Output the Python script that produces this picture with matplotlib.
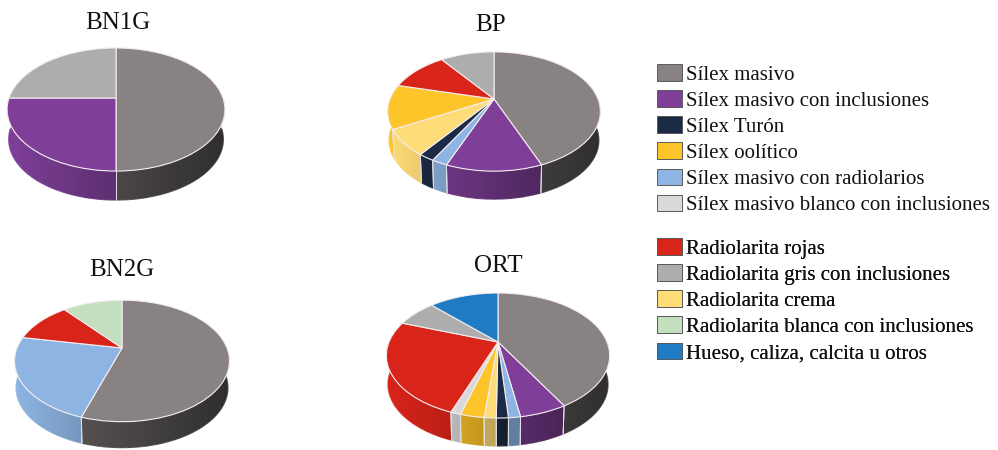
import numpy as np
import matplotlib
matplotlib.use("Agg")
import matplotlib.pyplot as plt
from matplotlib.collections import LineCollection
from matplotlib.patches import Patch, Polygon
from matplotlib.transforms import Transform

plt.rcParams["font.family"] = ["Liberation Serif", "DejaVu Serif"]

# Raw material categories
silica_labels = ["Sílex masivo", "Sílex masivo con inclusiones", "Sílex Turón", "Sílex oolítico",
                 "Sílex masivo con radiolarios", "Sílex masivo blanco con inclusiones"]
radiolarite_labels = ["Radiolarita rojas", "Radiolarita gris con inclusiones", "Radiolarita crema",
                      "Radiolarita blanca con inclusiones", "Hueso, caliza, calcita u otros"]
silica_colors = ["#898282", "#7f3f98", "#1c2b45", "#fdc52a", "#8db4e2", "#d9d9d9"]
radiolarite_colors = ["#d9241a", "#adadad", "#fedc77", "#c3dfbd", "#1f7cc4"]
COLOR = dict(zip(silica_labels + radiolarite_labels, silica_colors + radiolarite_colors))

# Site assemblages, in clockwise order starting at twelve o'clock
bn1g_labels = ["Sílex masivo", "Sílex masivo con inclusiones", "Radiolarita gris con inclusiones"]
bn1g_values = [50, 25, 25]

bp_labels = ["Sílex masivo", "Sílex masivo con inclusiones", "Sílex masivo con radiolarios", "Sílex Turón",
             "Radiolarita crema", "Sílex oolítico", "Radiolarita rojas", "Radiolarita gris con inclusiones"]
bp_values = [44, 12, 2, 2, 7, 12, 11, 10]

bn2g_labels = ["Sílex masivo", "Sílex masivo con radiolarios", "Radiolarita rojas",
               "Radiolarita blanca con inclusiones"]
bn2g_values = [55, 23, 11, 11]

ort_labels = ["Sílex masivo", "Sílex masivo con inclusiones", "Sílex masivo con radiolarios", "Sílex Turón",
              "Radiolarita crema", "Sílex oolítico", "Sílex masivo blanco con inclusiones", "Radiolarita rojas",
              "Radiolarita gris con inclusiones", "Hueso, caliza, calcita u otros"]
ort_values = [41.8, 5.6, 1.4, 1.4, 1.4, 2.8, 1.2, 24.9, 7.1, 12.4]


class PerspectiveDisc(Transform):
    """Projects the unit disc onto a tilted plane, receding towards the top."""
    input_dims = 2
    output_dims = 2
    is_separable = False
    has_inverse = False

    def __init__(self, cx, cy, a, b, k):
        super().__init__()
        self.cx, self.cy, self.a, self.b, self.k = cx, cy, a, b, k

    def transform_non_affine(self, values):
        values = np.asarray(values, dtype=float)
        w = 1 + self.k * values[:, 1]
        return np.column_stack([self.cx + self.a * values[:, 0] / w,
                                self.cy - self.b * values[:, 1] / w])


fig = plt.figure(figsize=(9.98, 4.5), dpi=100)
ax = fig.add_axes([0, 0, 1, 1])


def wall_shades(color, position, strength):
    """RGB of the side wall, darkening from the left of the pie to the right."""
    rgb = np.array(matplotlib.colors.to_rgb(color))
    amount = strength * (0.74 - 0.26 * np.clip(position, -1, 1))
    return np.clip(rgb[None, :] * amount[:, None], 0, 1)


def draw_pie(title, labels, values, cx, cy, a, b, k, depth, title_xy):
    colors = [COLOR[name] for name in labels]
    top = PerspectiveDisc(cx, cy, a, b, k)
    base = PerspectiveDisc(cx, cy + depth, a * 0.985, b * 0.985, k)
    wedges, _ = ax.pie(values, colors=colors, startangle=90, counterclock=False, radius=1, center=(0, 0),
                       wedgeprops=dict(edgecolor="#f4ecf0", linewidth=0.8, zorder=3, clip_on=False))
    for wedge, color, name in zip(wedges, colors, labels):
        wedge.set_transform(top + ax.transData)
        # Front wall of the slice: only the part of its arc facing the viewer
        lo, hi = max(wedge.theta1, -180), min(wedge.theta2, 0)
        if hi <= lo:
            continue
        angles = np.radians(np.linspace(lo, hi, max(int(hi - lo) * 2, 2) + 1))
        unit = np.column_stack([np.cos(angles), np.sin(angles)])
        upper, lower = top.transform(unit), base.transform(unit)
        outline = np.vstack([upper, lower[::-1]])
        x0, y0 = outline.min(axis=0)
        x1, y1 = outline.max(axis=0)
        strength = 0.74 if name == "Sílex masivo" else 1.0
        columns = np.linspace(x0, x1, 200)
        gradient = wall_shades(color, (columns - cx) / a, strength)[None, :, :]
        image = ax.imshow(gradient, extent=(x0, x1, y1, y0), aspect="auto", zorder=2, interpolation="bilinear")
        mask = Polygon(outline, closed=True, transform=ax.transData, facecolor="none", edgecolor="none")
        ax.add_patch(mask)
        image.set_clip_path(mask)
        # Antialiased lower rim so the clipped gradient keeps a clean silhouette
        pieces = np.stack([lower[:-1], lower[1:]], axis=1)
        rim = wall_shades(color, (pieces[:, :, 0].mean(axis=1) - cx) / a, strength)
        ax.add_collection(LineCollection(pieces, colors=rim, linewidths=0.9, zorder=2.1))
        for i in (0, -1):
            ax.plot([upper[i, 0], lower[i, 0]], [upper[i, 1], lower[i, 1]], color="#e6dfe4",
                    lw=0.7, zorder=2.5, clip_on=False)
    ax.text(*title_xy, title, ha="center", va="center", fontsize=18, color="#111111")


draw_pie("BN1G", bn1g_labels, bn1g_values, 116, 98, 107, 59.4, 0.187, 30, (118, 23))
draw_pie("BP", bp_labels, bp_values, 494, 99, 104, 57, 0.21, 29, (491, 25))
draw_pie("BN2G", bn2g_labels, bn2g_values, 122, 348, 105, 58, 0.213, 27, (122, 270))
draw_pie("ORT", ort_labels, ort_values, 498, 342, 109, 59.6, 0.216, 29, (498, 266))

ax.set_aspect("auto")
ax.set_xlim(0, 998)
ax.set_ylim(450, 0)
ax.set_axis_off()


def add_key(labels, anchor_y):
    handles = [Patch(facecolor=COLOR[name], edgecolor="#5a5a5a", linewidth=0.7, label=name) for name in labels]
    key = ax.legend(handles=handles, loc="upper left", bbox_to_anchor=(657, anchor_y),
                    bbox_transform=ax.transData, frameon=False, fontsize=15, borderpad=0, borderaxespad=0,
                    handlelength=1.2, handleheight=0.85, handletextpad=0.18, labelspacing=0.27,
                    labelcolor="#111111")
    ax.add_artist(key)


add_key(silica_labels, 64)
add_key(radiolarite_labels, 238)

fig.savefig("out.png", dpi=100)
